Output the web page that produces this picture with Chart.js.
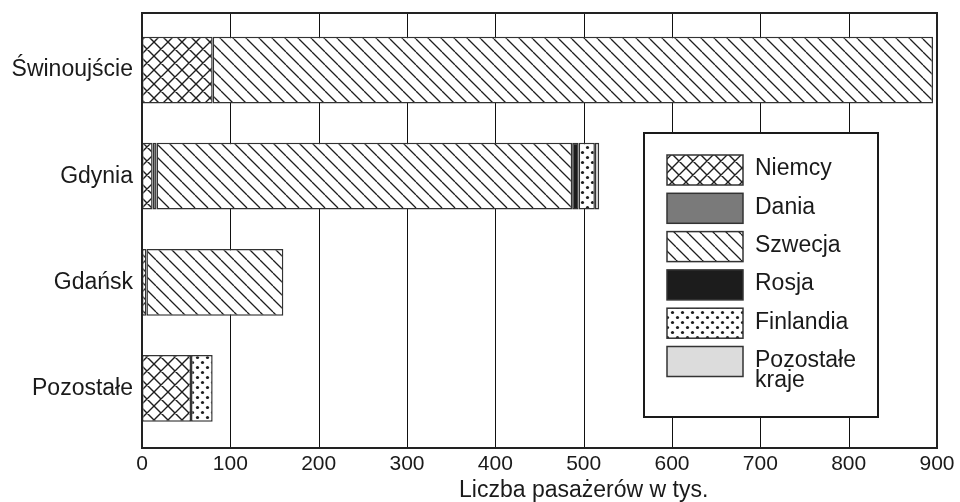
<!DOCTYPE html>
<html>
<head>
<meta charset="utf-8">
<script src="https://cdn.jsdelivr.net/npm/chart.js@4.4.1/dist/chart.umd.min.js"></script>
<style>
  html, body { margin: 0; padding: 0; background: #fff; }
  #wrap { width: 960px; height: 502px; position: relative; }
</style>
</head>
<body>
<div id="wrap"><canvas id="c" width="960" height="502"></canvas></div>
<script>
const categories = ['Świnoujście', 'Gdynia', 'Gdańsk', 'Pozostałe'];
const seriesNames = ['Niemcy', 'Dania', 'Szwecja', 'Rosja', 'Finlandia', 'Pozostałe kraje'];
const niemcy     = [80, 12, 5, 55.5];
const dania      = [0, 4.5, 0, 0];
const szwecja    = [815.5, 470.5, 155, 0];
const rosja      = [0, 7.3, 0, 0];
const finlandia  = [0, 18.4, 0, 24.5];
const pozostale  = [0, 4.9, 0, 0];
const xTicks     = [0, 100, 200, 300, 400, 500, 600, 700, 800, 900];
const axisTitle  = 'Liczba pasażerów w tys.';

const FONT = '"Liberation Sans", Arial, Helvetica, sans-serif';
const INK = '#1e1e1e';

function makePattern(size, draw) {
  const c = document.createElement('canvas');
  c.width = size; c.height = size;
  const g = c.getContext('2d');
  g.fillStyle = '#ffffff';
  g.fillRect(0, 0, size, size);
  g.strokeStyle = INK; g.fillStyle = INK;
  draw(g, size);
  return document.getElementById('c').getContext('2d').createPattern(c, 'repeat');
}
const crossPat = makePattern(14, (g, s) => {
  g.lineWidth = 1.4;
  g.beginPath();
  for (const k of [-s, 0, s]) {
    g.moveTo(k, 0); g.lineTo(k + s, s);
    g.moveTo(k + s, 0); g.lineTo(k, s);
  }
  g.stroke();
});
const hatchPat = makePattern(13, (g, s) => {
  g.lineWidth = 1.3;
  g.beginPath();
  for (const k of [-s, 0, s]) { g.moveTo(k, 0); g.lineTo(k + s, s); }
  g.stroke();
});
const dotPat = makePattern(10, (g, s) => {
  for (const [x, y] of [[2.5, 2.5], [7.5, 7.5]]) {
    g.beginPath(); g.arc(x, y, 1.6, 0, Math.PI * 2); g.fill();
  }
});

const fills = [crossPat, '#7a7a7a', hatchPat, '#1c1c1c', dotPat, '#dcdcdc'];
const values = [niemcy, dania, szwecja, rosja, finlandia, pozostale];

const PLOT_TOP = 13, PLOT_BOTTOM = 448;

const framePlugin = {
  id: 'frame',
  beforeDatasetsDraw(chart) {
    const { ctx } = chart;
    const xs = chart.scales.x;
    ctx.save();
    ctx.strokeStyle = '#111';
    ctx.lineWidth = 1;
    for (const v of xTicks) {
      const px = Math.round(xs.getPixelForValue(v)) + 0.5;
      ctx.beginPath(); ctx.moveTo(px, PLOT_TOP); ctx.lineTo(px, PLOT_BOTTOM); ctx.stroke();
    }
    ctx.restore();
  },
  afterDatasetsDraw(chart) {
    const { ctx, chartArea } = chart;
    const xs = chart.scales.x;
    ctx.save();
    ctx.strokeStyle = '#222';
    ctx.lineWidth = 2;
    ctx.strokeRect(chartArea.left, PLOT_TOP, chartArea.right - chartArea.left, PLOT_BOTTOM - PLOT_TOP);
    // axis title (placed as in the original, right of centre)
    ctx.fillStyle = '#1a1a1a';
    ctx.font = '23px ' + FONT;
    ctx.textAlign = 'center';
    ctx.textBaseline = 'middle';
    ctx.fillText(axisTitle, xs.getPixelForValue(500), 491);
    // legend
    const lx = 644, ly = 133, lw = 234, lh = 284;
    ctx.fillStyle = '#fff';
    ctx.fillRect(lx, ly, lw, lh);
    ctx.strokeStyle = '#1a1a1a';
    ctx.lineWidth = 2;
    ctx.strokeRect(lx, ly, lw, lh);
    ctx.font = '23px ' + FONT;
    ctx.textBaseline = 'middle';
    ctx.textAlign = 'left';
    chart.data.datasets.forEach((ds, i) => {
      const sy = 155 + i * 38.3;
      ctx.fillStyle = ds.backgroundColor;
      ctx.fillRect(667, sy, 76, 30);
      ctx.strokeStyle = '#333';
      ctx.lineWidth = 1.5;
      ctx.strokeRect(667, sy, 76, 30);
      ctx.fillStyle = '#1a1a1a';
      const parts = ds.label === 'Pozostałe kraje' ? ['Pozostałe', 'kraje'] : [ds.label];
      parts.forEach((t, j) => ctx.fillText(t, 755, sy + 14 + j * 20));
    });
    ctx.restore();
  }
};

new Chart(document.getElementById('c'), {
  type: 'bar',
  data: {
    labels: categories,
    datasets: seriesNames.map((name, i) => ({
      label: name,
      data: values[i],
      backgroundColor: fills[i],
      borderColor: '#333',
      borderWidth: 1.5,
      borderSkipped: false,
      barPercentage: 0.63,
      categoryPercentage: 1
    }))
  },
  options: {
    indexAxis: 'y',
    responsive: false,
    animation: false,
    layout: { padding: { top: 17, right: 23, left: 0, bottom: 0 } },
    plugins: { legend: { display: false }, tooltip: { enabled: false } },
    scales: {
      x: {
        stacked: true,
        min: 0, max: 900,
        afterBuildTicks(scale) { scale.ticks = xTicks.map(v => ({ value: v })); },
        afterFit(scale) { scale.height = 60.5; scale.paddingLeft = 0; scale.paddingRight = 0; },
        grid: { display: false, drawTicks: false },
        border: { display: false },
        ticks: { color: '#1a1a1a', font: { family: FONT, size: 21 }, padding: 10, maxRotation: 0, autoSkip: false },
        title: { display: false, text: axisTitle }
      },
      y: {
        stacked: true,
        afterFit(scale) { scale.width = 142; scale.paddingTop = 0; scale.paddingBottom = 0; },
        grid: { display: false, drawTicks: false },
        border: { display: false },
        ticks: { color: '#1a1a1a', font: { family: FONT, size: 23 }, padding: 9 }
      }
    }
  },
  plugins: [framePlugin]
});
</script>
</body>
</html>
